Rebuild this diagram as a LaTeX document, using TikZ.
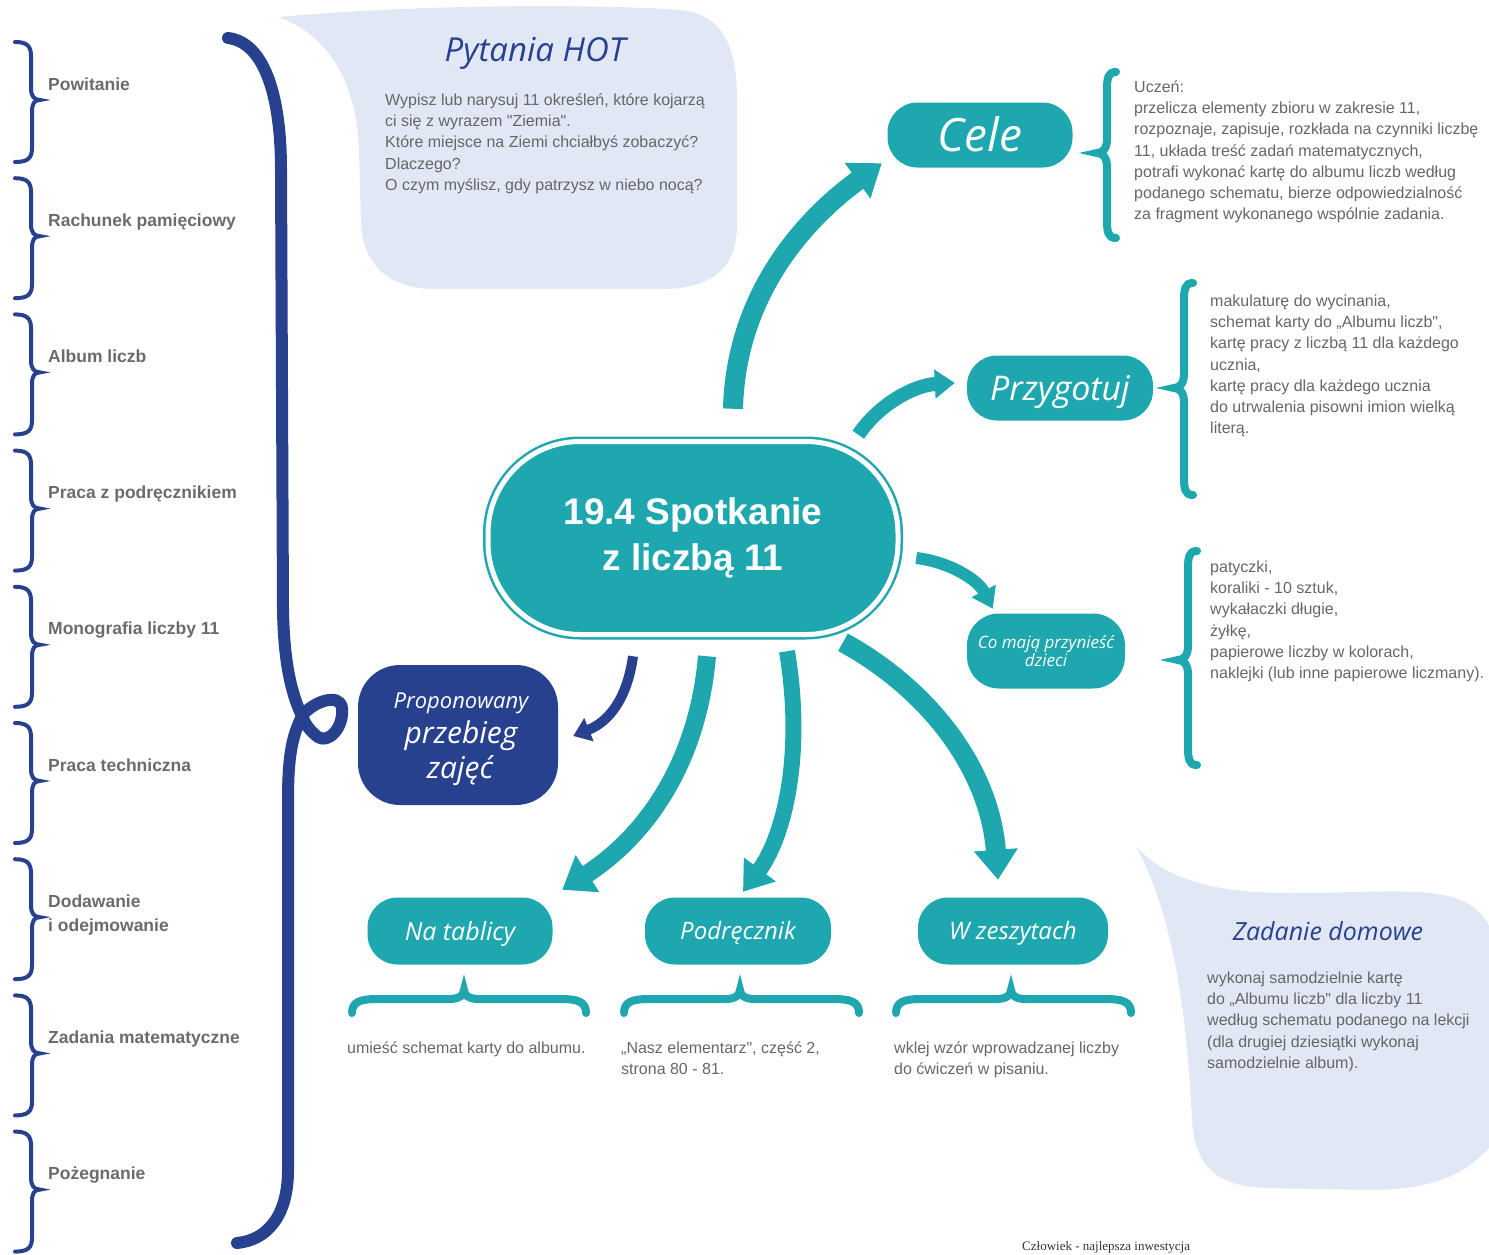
\documentclass[tikz,border=0pt]{standalone}
\usepackage{fontspec}
\setmainfont{Liberation Sans}[Ligatures=TeXOff]
\newfontfamily\handf{Open Sans}
\newfontfamily\serf{Liberation Serif}
\usetikzlibrary{arrows.meta}
\definecolor{tealc}{HTML}{1EA7AF}
\definecolor{navyc}{HTML}{27418F}
\definecolor{lavc}{HTML}{E2E7F6}
\definecolor{txtc}{HTML}{666666}
\definecolor{lblc}{HTML}{6B6B6B}
\newcommand{\hf}[2]{\handf\itshape\fontsize{#1}{#2}\selectfont}
% vertical teal brace: #1 x body, #2 y top, #3 y tip, #4 y bottom
\newcommand{\tvbrace}[4]{%
  \draw[tbr] (#1+9,#2) .. controls (#1+1,#2) and (#1,#2+6) .. (#1,#2+18)
    -- (#1,#3-14) .. controls (#1,#3-5) and (#1-4,#3) .. (#1-10,#3)
    .. controls (#1-4,#3) and (#1,#3+5) .. (#1,#3+14)
    -- (#1,#4-18) .. controls (#1,#4-6) and (#1+1,#4) .. (#1+9,#4);}
% horizontal teal brace: #1 x left, #2 x tip, #3 x right, #4 y body
\newcommand{\thbrace}[4]{%
  \draw[tbr] (#1,#4+14) .. controls (#1,#4+3) and (#1+8,#4) .. (#1+25,#4)
    -- (#2-14,#4) .. controls (#2-5,#4) and (#2,#4-4) .. (#2,#4-9)
    .. controls (#2,#4-4) and (#2+5,#4) .. (#2+14,#4)
    -- (#3-25,#4) .. controls (#3-8,#4) and (#3,#4+3) .. (#3,#4+14);}
\begin{document}
\begin{tikzpicture}[x=1pt,y=-1pt,
  pill/.style={rectangle, fill=tealc, text=white, rounded corners=30pt, inner sep=0pt},
  body/.style={text=txtc, font=\fontsize{16}{21.3}\selectfont, align=left, anchor=north west, inner sep=0pt},
  lbl/.style={text=lblc, font=\fontsize{17.5}{24}\selectfont\bfseries, align=left, anchor=north west, inner sep=0pt},
  nbr/.style={draw=navyc, line width=4pt, line cap=round},
  tbr/.style={draw=tealc, line width=8pt, line cap=round},
  arr/.style n args={4}{draw=#1, line width=#2, -{Triangle[width=#3,length=#4]}},
  title/.style={text=navyc, inner sep=0pt, text depth=0pt}
]
\useasboundingbox (0,0) rectangle (1489,1255);
\clip (0,0) rectangle (1489,1255);

% speech bubbles
\fill[lavc] (278,17) .. controls (420,4) and (600,4) .. (680,10)
  .. controls (722,14) and (737,45) .. (737,100) -- (737,225)
  .. controls (737,268) and (712,288) .. (665,289) -- (435,289)
  .. controls (390,289) and (362,265) .. (361,222) -- (359,150)
  .. controls (357,85) and (330,35) .. (278,17) -- cycle;
\fill[lavc] (1135,845) .. controls (1165,880) and (1215,893) .. (1290,893)
  .. controls (1380,893) and (1440,885) .. (1470,905)
  .. controls (1490,918) and (1495,935) .. (1495,960) -- (1495,1140)
  .. controls (1470,1175) and (1430,1190) .. (1370,1190) -- (1265,1188)
  .. controls (1215,1186) and (1195,1165) .. (1192,1120)
  .. controls (1188,1040) and (1178,920) .. (1135,845) -- cycle;

% big navy bracket
\draw[navyc, line width=12pt, line cap=round, line join=round]
  (228,38) .. controls (262,42) and (281,90) .. (281,170) -- (283,610)
  .. controls (284,665) and (292,695) .. (302,716)
  .. controls (312,702) and (340,692) .. (342,708)
  .. controls (344,728) and (328,744) .. (318,737)
  .. controls (310,731) and (305,724) .. (302,716)
  .. controls (293,735) and (288,752) .. (288,800) -- (288,1170)
  .. controls (288,1215) and (268,1240) .. (237,1243);

% left braces and labels
\foreach \i in {0,...,8} {
  \pgfmathsetmacro{\ya}{42+136.2*\i}
  \pgfmathsetmacro{\yb}{\ya+120}
  \pgfmathsetmacro{\yt}{\ya+58}
  \draw[nbr] (15,\ya) .. controls (27,\ya) and (31,\ya+4) .. (31,\ya+14)
    -- (31,\yt-12) .. controls (31,\yt-4) and (34,\yt) .. (40,\yt)
    .. controls (34,\yt) and (32,\yt+4) .. (32,\yt+12)
    -- (32,\yb-14) .. controls (32,\yb-4) and (28,\yb) .. (15,\yb);
}
\node[lbl] (l0) at (48,73.5) {\strut Powitanie};
\node[lbl] (l1) at (48,209.5) {\strut Rachunek pamięciowy};
\node[lbl] (l2) at (48,345.5) {\strut Album liczb};
\node[lbl] (l3) at (48,481.5) {\strut Praca z podręcznikiem};
\node[lbl] (l4) at (48,617.5) {\strut Monografia liczby 11};
\node[lbl] (l5) at (48,754.5) {\strut Praca techniczna};
\node[lbl] (l6) at (48,890.5) {\strut Dodawanie\\i odejmowanie};
\node[lbl] (l7) at (48,1026.5) {\strut Zadania matematyczne};
\node[lbl] (l8) at (48,1162.5) {\strut Pożegnanie};

% Pytania HOT
\node[title, font=\hf{33}{36}, text height=23.6pt] (hot) at (535,50) {Pytania HOT};
\node[body] (hottxt) at (385,90) {\strut Wypisz lub narysuj 11 określeń, które kojarzą\\ci się z wyrazem "Ziemia".\\Które miejsce na Ziemi chciałbyś zobaczyć?\\Dlaczego?\\O czym myślisz, gdy patrzysz w niebo nocą?};

% central node
\node[rectangle, fill=tealc, draw=tealc, double=white, double distance=5pt, line width=2.5pt,
  rounded corners=92pt, minimum width=410pt, minimum height=193pt, inner sep=0pt,
  text=white, align=center, font=\fontsize{37}{46}\selectfont\bfseries] (ctr) at (693,538)
  {19.4 Spotkanie\\z liczbą 11};

% pills
\node[pill, minimum width=185pt, minimum height=65pt, font=\hf{46}{50}, text height=33pt, text depth=0pt] (cele) at (980,135) {Cele};
\node[pill, minimum width=186pt, minimum height=65pt, font=\hf{34}{38}, text height=24pt, text depth=0pt] (prz) at (1060,388) {Przygotuj};
\node[pill, minimum width=158pt, minimum height=75pt, rounded corners=32pt, align=center, font=\hf{17}{17}] (co) at (1046,651) {Co mają przynieść\\dzieci};
\node[pill, minimum width=185pt, minimum height=67pt, font=\hf{25}{28}, text height=18pt, text depth=0pt] (nat) at (460,931) {Na tablicy};
\node[pill, minimum width=186pt, minimum height=67pt, font=\hf{24}{28}, text height=17pt, text depth=0pt] (pod) at (738,931) {Podręcznik};
\node[pill, minimum width=190pt, minimum height=67pt, font=\hf{24}{28}, text height=17pt, text depth=0pt] (wz) at (1013,931) {W zeszytach};
\node[rectangle, fill=navyc, rounded corners=42pt, minimum width=200pt, minimum height=140pt, inner sep=0pt] (prop) at (458,735) {};
\node[text=white, inner sep=0pt, anchor=base, font=\hf{22}{24}] (prop1) at (461,708) {Proponowany};
\node[text=white, inner sep=0pt, anchor=base, font=\hf{30}{32}] (prop2) at (461,743) {przebieg};
\node[text=white, inner sep=0pt, anchor=base, font=\hf{30}{32}] (prop3) at (460,778) {zajęć};

% side braces and texts
\tvbrace{1107}{72}{153}{238}
\node[body] (celetxt) at (1134,77) {\strut Uczeń:\\przelicza elementy zbioru w zakresie 11,\\rozpoznaje, zapisuje, rozkłada na czynniki liczbę\\11, układa treść zadań matematycznych,\\potrafi wykonać kartę do albumu liczb według\\podanego schematu, bierze odpowiedzialność\\za fragment wykonanego wspólnie zadania.};
\tvbrace{1184}{283}{388}{495}
\node[body] (prztxt) at (1210,291) {\strut makulaturę do wycinania,\\schemat karty do „Albumu liczb",\\kartę pracy z liczbą 11 dla każdego\\ucznia,\\kartę pracy dla każdego ucznia\\do utrwalenia pisowni imion wielką\\literą.};
\tvbrace{1188}{551}{660}{765}
\node[body] (cotxt) at (1210,557) {\strut patyczki,\\koraliki - 10 sztuk,\\wykałaczki długie,\\żyłkę,\\papierowe liczby w kolorach,\\naklejki (lub inne papierowe liczmany).};

% bottom braces and texts
\thbrace{352}{464}{586}{999}
\thbrace{624}{740}{859}{999}
\thbrace{896}{1011}{1131}{999}
\node[body] (nattxt) at (347,1038) {\strut umieść schemat karty do albumu.};
\node[body] (podtxt) at (621,1038) {\strut „Nasz elementarz", część 2,\\strona 80 - 81.};
\node[body] (wztxt) at (894,1038) {\strut wklej wzór wprowadzanej liczby\\do ćwiczeń w pisaniu.};

% Zadanie domowe
\node[title, font=\hf{25}{28}, text height=17.9pt] (zad) at (1328,932) {Zadanie domowe};
\node[body] (zadtxt) at (1207,968) {\strut wykonaj samodzielnie kartę\\do „Albumu liczb" dla liczby 11\\według schematu podanego na lekcji\\(dla drugiej dziesiątki wykonaj\\samodzielnie album).};

% arrows
\draw[arr={tealc}{20pt}{42pt}{30pt}] ([xshift=40pt,yshift=31.5pt]ctr.north) .. controls (736,290) and (810,215) .. ([xshift=-5.5pt,yshift=4.5pt]cele.south west);
\draw[arr={tealc}{14pt}{28pt}{20pt}] ([xshift=-41pt,yshift=5.5pt]ctr.north east) .. controls (880,403) and (915,385) .. ([xshift=-12pt,yshift=5pt]prz.west);
\draw[arr={tealc}{12pt}{26pt}{20pt}] ([xshift=17pt,yshift=-20pt]ctr.east) .. controls (950,562) and (978,580) .. ([xshift=26pt,yshift=4.5pt]co.north west);
\draw[arr={navyc}{10pt}{24pt}{17pt}] ([xshift=-60pt,yshift=-20.5pt]ctr.south) .. controls (627,700) and (608,722) .. ([xshift=15pt,yshift=-1pt]prop.east);
\draw[arr={tealc}{18pt}{42pt}{30pt}] ([xshift=14pt,yshift=-20.5pt]ctr.south) .. controls (697,770) and (640,840) .. ([xshift=9.5pt,yshift=7.5pt]nat.north east);
\draw[arr={tealc}{16pt}{38pt}{28pt}] ([xshift=94pt,yshift=-15.5pt]ctr.south) .. controls (805,760) and (782,840) .. ([xshift=5pt,yshift=5.5pt]pod.north);
\draw[arr={tealc}{20pt}{42pt}{30pt}] ([xshift=150pt,yshift=-6.5pt]ctr.south) .. controls (930,690) and (990,770) .. ([xshift=-15pt,yshift=17.5pt]wz.north);

% footer
\node[inner sep=0pt, anchor=base west, text=black!80, font=\serf\fontsize{13}{16}\selectfont] (foot) at (1022,1250) {Człowiek - najlepsza inwestycja};
\end{tikzpicture}
\end{document}
